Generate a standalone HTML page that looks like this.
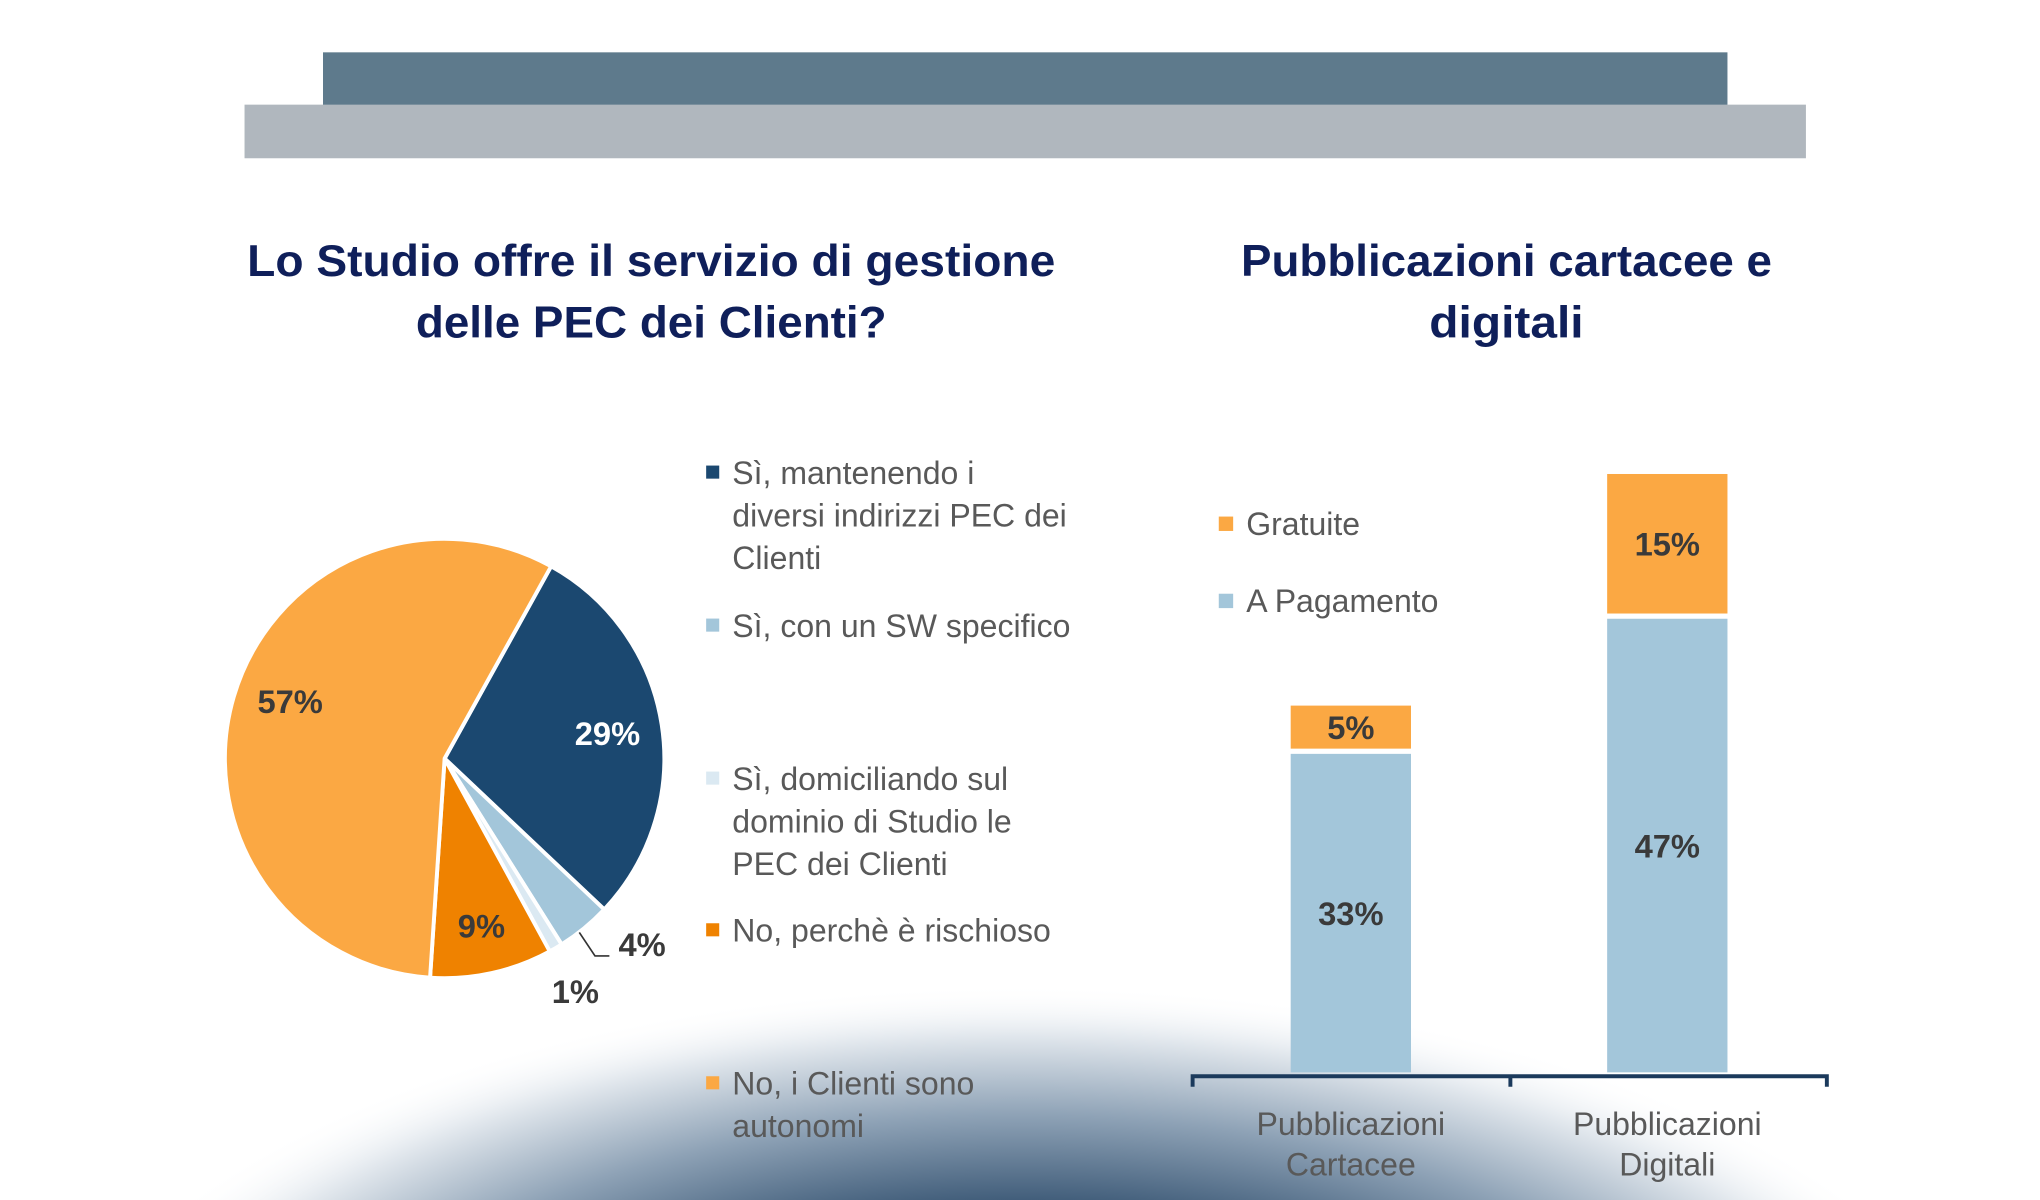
<!DOCTYPE html>
<html><head><meta charset="utf-8"><style>
html,body{margin:0;padding:0;background:#fff;}
svg{display:block;}
text{font-family:"Liberation Sans",sans-serif;}
</style></head><body>
<svg id="root" width="2040" height="1200" viewBox="0 0 1560 917.6" xmlns="http://www.w3.org/2000/svg">
<defs>
<radialGradient id="glow" cx="780" cy="1110" r="760" gradientUnits="userSpaceOnUse" gradientTransform="translate(780 1110) scale(1 0.47) translate(-780 -1110)">
<stop offset="0" stop-color="#0f2c4c"/>
<stop offset="0.45" stop-color="#1d3d5e"/>
<stop offset="0.72" stop-color="#8ea2b6"/>
<stop offset="0.9" stop-color="#e6ebf0"/>
<stop offset="1" stop-color="#ffffff" stop-opacity="0"/>
</radialGradient>
</defs>
<rect x="0" y="0" width="1560" height="918" fill="#fff"/>
<rect x="0" y="700" width="1560" height="218" fill="url(#glow)"/>
<rect x="247" y="40" width="1074" height="41" fill="#5e7a8c"/>
<rect x="187" y="80" width="1194" height="41" fill="#b0b7be"/>

<g fill="#0f1f5a" font-weight="bold" font-size="34" text-anchor="middle">
<text x="498" y="211" textLength="618" lengthAdjust="spacingAndGlyphs">Lo Studio offre il servizio di gestione</text>
<text x="498" y="258" textLength="360" lengthAdjust="spacingAndGlyphs">delle PEC dei Clienti?</text>
</g>
<g fill="#0f1f5a" font-weight="bold" font-size="34" text-anchor="middle">
<text x="1152" y="211" textLength="406" lengthAdjust="spacingAndGlyphs">Pubblicazioni cartacee e</text>
<text x="1152" y="258" textLength="118" lengthAdjust="spacingAndGlyphs">digitali</text>
</g>

<g id="pie"></g>
<g id="pieLegend"></g>
<g id="bars"></g>
</svg>
<script>
const pieCategories = ["Sì, mantenendo i diversi indirizzi PEC dei Clienti","Sì, con un SW specifico","Sì, domiciliando sul dominio di Studio le PEC dei Clienti","No, perchè è rischioso","No, i Clienti sono autonomi"];
const pieValues = [29, 4, 1, 9, 57];
const pieLabels = ["29%","4%","1%","9%","57%"];
const barCategories = ["Pubblicazioni Cartacee","Pubblicazioni Digitali"];
const seriesPagamento = [33, 47];
const seriesGratuite = [5, 15];
const pagamentoLabels = ["33%","47%"];
const gratuiteLabels = ["5%","15%"];

const NS = "http://www.w3.org/2000/svg";
function mk(tag, attrs, parent){const e=document.createElementNS(NS,tag);for(const k in attrs)e.setAttribute(k,attrs[k]);parent.appendChild(e);return e;}

const pieColors = ["#1b4870","#a3c6da","#dbe9f2","#ef8200","#fba843"];
const cx=340, cy=580, R=168, startDeg=29;
const pie=document.getElementById('pie');
const total=pieValues.reduce((a,b)=>a+b,0);
let acc=0;
function pt(deg,r){const a=(deg-90)*Math.PI/180;return [cx+r*Math.cos(a), cy+r*Math.sin(a)];}
const labelPos=[];
pieValues.forEach((v,i)=>{
  const a0=startDeg+acc/total*360; acc+=v; const a1=startDeg+acc/total*360;
  const p0=pt(a0,R), p1=pt(a1,R); const large=(a1-a0)>180?1:0;
  const p=mk('path',{d:`M${cx},${cy} L${p0[0]},${p0[1]} A${R},${R} 0 ${large} 1 ${p1[0]},${p1[1]} Z`,fill:pieColors[i],stroke:'#fff','stroke-width':3,'stroke-linejoin':'round'},pie);
  
  
  labelPos.push((a0+a1)/2);
});
labelPos.forEach((mid,i)=>{
  const v=pieValues[i];
  let pos, col='#3a3a3a';
  if(v>=8){
    let m=mid, rr=R*0.75;
    if(i===4){m=mid+4; rr=R*0.75;}
    if(i===3){rr=R*0.78;}
    pos=pt(m,rr); if(i===0)col='#fff';
  }
  else if(i===1){pos=[491,731];}
  else {pos=[440,767];}
  const t=mk('text',{x:pos[0],y:pos[1]+(v>=8?9:0),'text-anchor':'middle','font-size':25,'font-weight':'bold',fill:col},pie);
  t.textContent=pieLabels[i];
  
  
});
const leader=mk('polyline',{points:'443,713 455,731 466,731',fill:'none',stroke:'#333','stroke-width':1.3},pie);



const legendLines=[["Sì, mantenendo i","diversi indirizzi PEC dei","Clienti"],["Sì, con un SW specifico"],["Sì, domiciliando sul","dominio di Studio le","PEC dei Clienti"],["No, perchè è rischioso"],["No, i Clienti sono","autonomi"]];
const legendY=[361,478,595,711,828];
const pl=document.getElementById('pieLegend');
pieCategories.forEach((c,i)=>{
  const g=mk('g',{},pl);
  
  
  mk('rect',{x:540,y:legendY[i]-5,width:10,height:10,fill:pieColors[i]},g);
  legendLines[i].forEach((ln,j)=>{
    const t=mk('text',{x:560,y:legendY[i]+9+j*32.5,'font-size':24.5,fill:'#595959'},g);
    t.textContent=ln;
  });
});

const bars=document.getElementById('bars');
const y0=820, pxPer=7.38, barW=92, centers=[1033,1275];
function yScale(v){return y0-v*pxPer;}
barCategories.forEach((c,i)=>{
  const x=centers[i]-barW/2;
  const yb=yScale(seriesPagamento[i]);
  const r1=mk('rect',{x:x,y:yb,width:barW,height:y0-yb,fill:'#a3c6da'},bars);
  
  
  const yt=yScale(seriesPagamento[i]+seriesGratuite[i]);
  const r2=mk('rect',{x:x,y:yt,width:barW,height:yb-yt-4,fill:'#fba843'},bars);
  
  
  const t1=mk('text',{x:centers[i],y:(yb+y0)/2+9,'text-anchor':'middle','font-size':25,'font-weight':'bold',fill:'#3a3a3a'},bars);
  t1.textContent=pagamentoLabels[i];
  
  
  const t2=mk('text',{x:centers[i],y:(yt+yb-4)/2+9,'text-anchor':'middle','font-size':25,'font-weight':'bold',fill:'#3a3a3a'},bars);
  t2.textContent=gratuiteLabels[i];
  
  
  const words=c.split(' ');
  words.forEach((w,j)=>{
    const t=mk('text',{x:centers[i],y:868+j*31,'text-anchor':'middle','font-size':24.5,fill:'#595959'},bars);
    t.textContent=w;
    
    
  });
});
const axis=mk('path',{d:'M912,831 L912,823 L1397,823 L1397,831 M1155,823 L1155,831',fill:'none',stroke:'#1b3a5c','stroke-width':3},bars);


const bl=[["Gratuite","#fba843",400],["A Pagamento","#a3c6da",459]];
bl.forEach((b,i)=>{
  const g=mk('g',{},bars);
  
  
  mk('rect',{x:932,y:b[2]-5,width:11,height:11,fill:b[1]},g);
  const t=mk('text',{x:953,y:b[2]+9,'font-size':24.5,fill:'#595959'},g);
  t.textContent=b[0];
});
</script>
</body></html>
